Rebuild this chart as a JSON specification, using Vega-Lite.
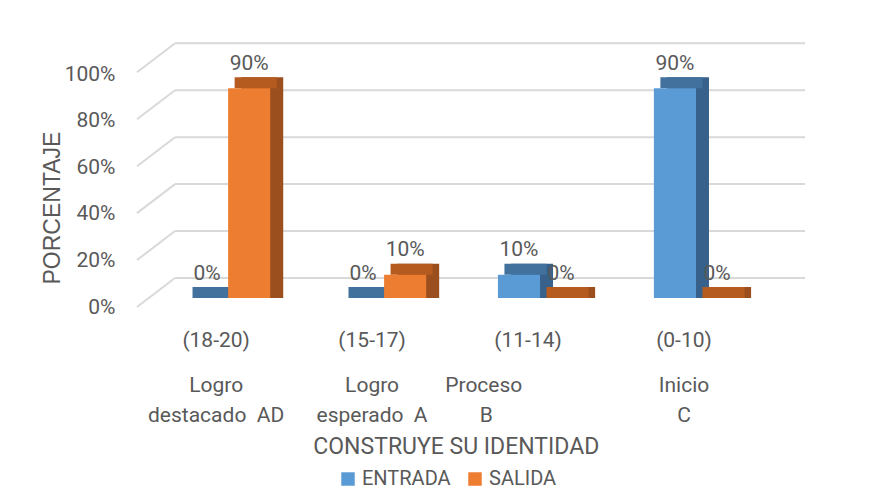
{
  "$schema": "https://vega.github.io/schema/vega-lite/v6.json",
  "width": 655,
  "height": 233,
  "autosize": {"type": "none"},
  "padding": {"left": 150, "top": 65, "right": 79, "bottom": 196},
  "background": "white",
  "config": {"view": {"stroke": null}, "font": "Roboto"},
  "datasets": {
    "notas": [
      {"rango": "(18-20)", "serie": "ENTRADA", "valor": 0},
      {"rango": "(18-20)", "serie": "SALIDA", "valor": 0.9},
      {"rango": "(15-17)", "serie": "ENTRADA", "valor": 0},
      {"rango": "(15-17)", "serie": "SALIDA", "valor": 0.1},
      {"rango": "(11-14)", "serie": "ENTRADA", "valor": 0.1},
      {"rango": "(11-14)", "serie": "SALIDA", "valor": 0},
      {"rango": "(0-10)", "serie": "ENTRADA", "valor": 0.9},
      {"rango": "(0-10)", "serie": "SALIDA", "valor": 0}
    ],
    "rejilla": [{"nivel": 0}, {"nivel": 0.2}, {"nivel": 0.4}, {"nivel": 0.6}, {"nivel": 0.8}, {"nivel": 1}]
  },
  "layer": [
    {
      "data": {"name": "rejilla"},
      "layer": [
        {
          "mark": {"type": "rule", "color": "#D9D9D9", "strokeWidth": 2},
          "encoding": {
            "x": {"datum": 0, "type": "quantitative", "scale": {"domain": [0, 1], "range": [25, 655], "nice": false, "zero": false}, "axis": null},
            "x2": {"datum": 1},
            "y": {"field": "nivel", "type": "quantitative", "scale": {"domain": [-0.0852, 0.9075], "nice": false, "zero": false}, "axis": null}
          }
        },
        {
          "mark": {"type": "rule", "color": "#D9D9D9", "strokeWidth": 2, "x2Offset": -38, "y2Offset": 29},
          "encoding": {
            "x": {"datum": 0, "type": "quantitative", "axis": null},
            "x2": {"datum": 0},
            "y": {"field": "nivel", "type": "quantitative", "axis": null},
            "y2": {"field": "nivel"}
          }
        }
      ]
    },
    {
      "data": {"name": "notas"},
      "layer": [
        {
          "mark": {"type": "bar", "yOffset": -11, "y2Offset": -11},
          "encoding": {
            "x": {"field": "rango", "type": "nominal", "sort": ["(18-20)", "(15-17)", "(11-14)", "(0-10)"], "axis": null},
            "xOffset": {"field": "serie", "type": "nominal", "scale": {"domain": ["ENTRADA", "SALIDA"], "range": [13, 97.2]}},
            "y": {"field": "valor", "type": "quantitative", "stack": null, "scale": {"domain": [0, 1]}},
            "color": {"field": "serie", "type": "nominal", "scale": {"domain": ["ENTRADA", "SALIDA"], "range": ["#37618A", "#9B4F1E"]}, "legend": null}
          }
        },
        {
          "mark": {"type": "bar", "yOffset": -11},
          "encoding": {
            "x": {"field": "rango", "type": "nominal", "sort": ["(18-20)", "(15-17)", "(11-14)", "(0-10)"], "axis": null},
            "xOffset": {"field": "serie", "type": "nominal", "scale": {"domain": ["ENTRADA", "SALIDA"], "range": [6.5, 90.7]}},
            "y": {"field": "valor", "type": "quantitative", "stack": null},
            "y2": {"field": "valor"},
            "color": {"field": "serie", "type": "nominal", "scale": {"domain": ["ENTRADA", "SALIDA"], "range": ["#41719C", "#B55B1F"]}, "legend": null}
          }
        },
        {
          "mark": {"type": "bar"},
          "encoding": {
            "x": {
              "field": "rango", "type": "nominal", "sort": ["(18-20)", "(15-17)", "(11-14)", "(0-10)"],
              "scale": {"paddingInner": 0.46, "paddingOuter": 0.33, "align": 0.35},
              "axis": {
                "orient": "bottom", "domain": false, "ticks": false, "labelAngle": 0,
                "labelPadding": 93.7, "labelBaseline": "alphabetic", "labelLineHeight": 29.5, "labelOffset": -12,
                "labelOverlap": false, "labelLimit": 400, "labelBound": false,
                "labelExpr": "datum.value == '(18-20)' ? ['Logro', 'destacado\u00a0 AD'] : datum.value == '(15-17)' ? ['Logro', 'esperado\u00a0 A'] : datum.value == '(11-14)' ? ['Proceso\u00a0\u00a0\u00a0\u00a0\u00a0\u00a0\u00a0\u00a0\u00a0\u00a0\u00a0\u00a0\u00a0\u00a0\u00a0\u00a0\u00a0\u2060', 'B\u00a0\u00a0\u00a0\u00a0\u00a0\u00a0\u00a0\u00a0\u00a0\u00a0\u00a0\u00a0\u00a0\u00a0\u00a0\u00a0\u2060'] : ['Inicio', 'C']",
                "labelFont": "Roboto", "labelFontSize": 21, "labelColor": "#595959",
                "title": "CONSTRUYE SU IDENTIDAD", "titleFont": "Roboto", "titleFontSize": 23, "titleFontWeight": "normal",
                "titleColor": "#595959", "titleX": 305.8, "titleY": 155, "titleBaseline": "alphabetic", "titleAlign": "center"
              }
            },
            "xOffset": {"field": "serie", "type": "nominal", "scale": {"domain": ["ENTRADA", "SALIDA"]}},
            "y": {
              "field": "valor", "type": "quantitative", "stack": null,
              "axis": {
                "values": [0, 0.2, 0.4, 0.6, 0.8, 1], "format": ".0%", "grid": false, "domain": false, "ticks": false,
                "labelPadding": 35, "labelOffset": 9, "labelFont": "Roboto", "labelFontSize": 21, "labelColor": "#595959",
                "title": "PORCENTAJE", "titleFont": "Liberation Sans", "titleFontSize": 23, "titleFontWeight": "normal",
                "titleColor": "#595959", "titleX": -97.5, "titleY": 142.5, "titleBaseline": "middle", "titleAlign": "center", "titleAngle": 270
              }
            },
            "color": {
              "field": "serie", "type": "nominal",
              "scale": {"domain": ["ENTRADA", "SALIDA"], "range": ["#5B9BD5", "#ED7D31"]},
              "legend": {
                "orient": "none", "legendX": 188, "legendY": 404, "direction": "horizontal", "title": null,
                "symbolType": "square", "symbolSize": 182, "symbolStrokeWidth": 0, "symbolOpacity": 1,
                "labelFont": "Roboto", "labelFontSize": 20, "labelColor": "#595959", "labelOffset": 4,
                "columnPadding": 14, "padding": 0
              }
            }
          }
        },
        {
          "mark": {"type": "text", "baseline": "alphabetic", "dy": -18.5, "font": "Roboto", "fontSize": 21, "color": "#595959"},
          "encoding": {
            "x": {
              "field": "rango", "type": "nominal", "sort": ["(18-20)", "(15-17)", "(11-14)", "(0-10)"],
              "axis": {
                "orient": "bottom", "domain": false, "ticks": false, "labelAngle": 0, "title": null,
                "labelPadding": 48.7, "labelBaseline": "alphabetic", "labelOffset": -12, "labelOverlap": false,
                "labelFont": "Roboto", "labelFontSize": 21, "labelColor": "#595959"
              }
            },
            "xOffset": {"field": "serie", "type": "nominal", "scale": {"domain": ["ENTRADA", "SALIDA"]}},
            "y": {"field": "valor", "type": "quantitative", "stack": null},
            "text": {"field": "valor", "type": "quantitative", "format": ".0%"}
          }
        }
      ],
      "resolve": {"scale": {"xOffset": "independent", "color": "independent"}, "axis": {"x": "independent"}}
    }
  ],
  "resolve": {"scale": {"y": "independent", "x": "independent"}}
}
